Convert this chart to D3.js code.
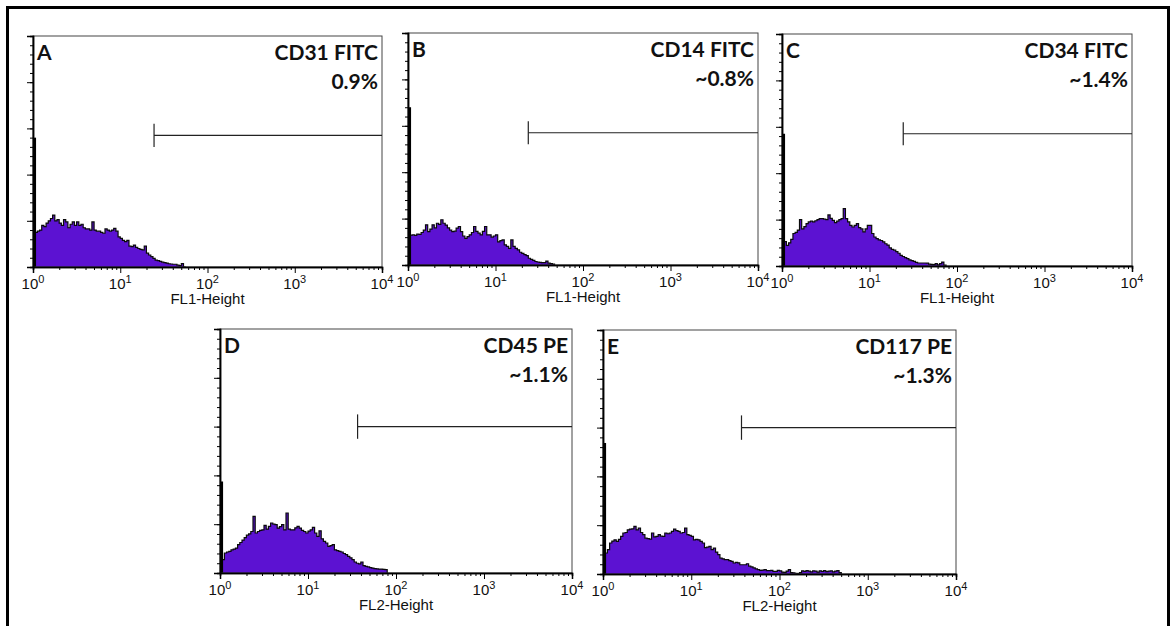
<!DOCTYPE html>
<html>
<head>
<meta charset="utf-8">
<script src="https://cdn.jsdelivr.net/npm/d3@7"></script>
<style>
  body { margin: 0; background: #fff; }
  svg { display: block; font-family: "Liberation Sans", Arial, sans-serif; }
</style>
</head>
<body>
<svg id="fig" width="1176" height="626"></svg>
<script>
// panel annotations
const panelIds   = ['A', 'B', 'C', 'D', 'E']
const markers    = ['CD31 FITC', 'CD14 FITC', 'CD34 FITC', 'CD45 PE', 'CD117 PE']
const percents   = ['0.9%', '~0.8%', '~1.4%', '~1.1%', '~1.3%']
const channels   = ['FL1-Height', 'FL1-Height', 'FL1-Height', 'FL2-Height', 'FL2-Height']
const gateStart  = [24.4, 23.7, 24.3, 36.6, 37.1]   // marker gate begins (fluorescence)
const gateLevel  = [57, 57, 57, 60, 60]             // height of the gate bar (count scale 0-100)
const firstChannel = [56, 68, 57, 37.5, 53.7]       // pile-up in the first channel
const decadeTicks = [1, 10, 100, 1000, 10000]
const decadeExp   = ['0', '1', '2', '3', '4']

// histogram counts, one value per 1/40 decade starting at 10^0
const binStep = 0.025
const countsA = [14.6,15,15.5,16,18,17.5,19,20,21,22.5,
  20,20.5,19,18,20.5,19.5,17,18.5,19.5,18,
  19.5,18,18.5,17,16.5,16.5,16,19.5,16,15.5,
  15.5,15,14.6,16.5,16,15.5,16,16.7,15.5,13,
  12.4,11.5,11,11.5,9,8.8,9.5,8.5,8,7.6,
  7.4,9,6,5.2,4.5,3.7,3,2.8,2.4,2.1,
  1.9,1.7,1.4,1.3,1.2,1.2,0.8,0.6,1.5,0]
const countsB = [12.7,12.9,13,12.8,13.3,13.2,14,15,17.3,14.4,
  15.5,17.3,16,18,17.5,19.5,18,17.2,16,15,
  14.4,14.6,15.9,16.6,14.4,12.5,11.5,12.2,13,14,
  16.6,14.5,13.7,13,14.5,16.6,13,13,12,12.5,
  13,10,10.5,10.8,8.7,8,7.2,10.8,8,7.2,
  6.5,5.5,5,4.5,4,2.9,2.4,2,1.5,1.3,
  1.1,1,1,1.7,0.8,0.6,0.4]
const countsC = [11.8,10.5,8.9,10,11.5,14,14.5,15.5,20,16,
  17,18.3,19,19.3,19,19.5,20,20.4,20.4,20.2,
  20,22,20.5,19.7,18.7,19.3,20,20.4,24.7,20.4,
  19,17.5,16.8,17.5,18.3,16.5,16,14.7,16,17.5,
  17.5,14,12.5,11.8,11.3,11,10.4,9.6,9,7.8,
  7.2,6.8,6.2,5.5,4.6,4.1,3.6,3.2,2.6,2.3,
  2,1.6,1.3,1.3,1.3,1.3,1.2,0.8,0.7,0.6,
  1,0.5,1,1.7,0.4]
const countsD = [4.8,5.5,8.2,8.6,8.9,9.5,9.8,10.2,11.6,12.5,
  13.5,14.5,15.5,16,17,23.2,16.4,17,17.5,17.7,
  19.5,18,19.1,20.5,20,19.8,18.4,19,19.8,17.7,
  24.6,18,17.7,17.7,18.5,19.1,18.4,17.5,17,16.4,
  17.2,17.7,18.7,16.4,15,17.3,14,13,12.3,10.9,
  11.2,11.6,9.5,9.2,8.9,8.6,8,7.5,6.8,6.2,
  5.5,4.5,4,3.7,4.5,3,2.7,2.5,2.2,2,
  1.8,1.7,1.6,1.6,1.5,1.4]
const countsE = [9.3,8.6,10,12.7,13.5,14,13.4,14.2,15.4,16.8,
  17,18.1,18.4,18.5,19.5,18.1,18.8,17,16.1,14.7,
  14.5,14.3,16.8,15.2,15.4,16.1,15.5,15.4,16.8,16.5,
  16.8,17.5,18.4,17.8,17.5,16.8,17,18.8,16.1,15.8,
  15.4,14,14.2,14,13.4,12.7,10.8,11,11.3,10,
  10.6,9,7.9,6.5,6.2,5.9,5.9,5.5,5.2,4.5,
  4.8,4.6,3.8,3.8,3.8,4.2,3.2,2.9,2.5,2.1,
  1.8,1.5,1.6,1.8,1.4,1.4,1.5,1.1,1.1,1.5,
  1.3,0.8,0.7,1.2,1.8,0.6,0.5,0.3,0.2,0.6,
  1.3,1.1,1.4,1.2,0.9,1.3,1.2,0.8,1.3,1.1,
  1.4,1,1.2,1.3,0.9,1.2,1.4,0.6]
const counts = [countsA, countsB, countsC, countsD, countsE]

// plot boxes on the page
const layout = [
  { x: 33,  y: 36,  w: 349, h: 231 },
  { x: 408, y: 33,  w: 350, h: 232 },
  { x: 782, y: 34,  w: 350, h: 232 },
  { x: 220, y: 329, w: 352, h: 244 },
  { x: 603, y: 330, w: 353, h: 244 }
]
const purple = '#5c12d2'

const svg = d3.select('#fig')

// outer frame (open at the bottom of the page)
svg.append('rect')
  .attr('x', 7.5).attr('y', 7.5)
  .attr('width', 1161).attr('height', 660)
  .attr('fill', 'none').attr('stroke', '#000').attr('stroke-width', 3)

const minorTicks = []
decadeTicks.slice(0, 4).forEach(d => { for (let m = 2; m <= 9; m++) minorTicks.push(d * m) })

counts.forEach((vals, k) => {
  const L = layout[k]
  const g = svg.append('g').attr('transform', `translate(${L.x},${L.y})`)

  const x = d3.scaleLog().domain([1, 1e4]).range([0, L.w])
  const y = d3.scaleLinear().domain([0, 100]).range([L.h, 0])

  // histogram
  const pts = vals.map((v, i) => ({ lo: Math.pow(10, i * binStep), v }))
  pts.push({ lo: Math.pow(10, vals.length * binStep), v: 0 })

  const area = d3.area()
    .x(d => x(d.lo)).y0(L.h).y1(d => y(d.v))
    .curve(d3.curveStepAfter)
  g.append('path').datum(pts).attr('d', area).attr('fill', purple)

  const outline = d3.line()
    .x(d => x(d.lo)).y(d => y(d.v))
    .curve(d3.curveStepAfter)
  g.append('path').datum(pts).attr('d', outline)
    .attr('fill', 'none').attr('stroke', '#0a0a0a').attr('stroke-width', 1.2)

  // first-channel spike
  g.append('rect')
    .attr('x', x(1))
    .attr('y', y(firstChannel[k]))
    .attr('width', (x(Math.pow(10, binStep)) - x(1)) * 1.4)
    .attr('height', L.h - y(firstChannel[k]))
    .attr('fill', '#000')

  // frame
  g.append('rect').attr('width', L.w).attr('height', L.h)
    .attr('fill', 'none').attr('stroke', '#444').attr('stroke-width', 1)

  // x axis
  const xMinor = g.append('g').attr('transform', `translate(0,${L.h})`)
    .call(d3.axisBottom(x).tickValues(minorTicks).tickSize(3).tickFormat(''))
  const xMajor = g.append('g').attr('transform', `translate(0,${L.h})`)
    .call(d3.axisBottom(x).tickValues(decadeTicks).tickSize(6).tickFormat(''))
  // y axis
  const yMinor = g.append('g')
    .call(d3.axisLeft(y).tickValues(d3.range(0, 101, 4)).tickSize(3).tickFormat(''))
  const yMajor = g.append('g')
    .call(d3.axisLeft(y).tickValues(d3.range(0, 101, 20)).tickSize(6).tickFormat(''))

  ;[xMinor, xMajor, yMinor, yMajor].forEach(a => {
    a.selectAll('.tick line').attr('stroke', '#000')
    a.select('.domain').attr('stroke', '#000').attr('stroke-width', 1.5)
  })

  // decade labels 10^n
  decadeTicks.forEach((v, i) => {
    const t = g.append('text')
      .attr('x', x(v)).attr('y', L.h + 22)
      .attr('text-anchor', 'middle')
      .attr('font-size', 15).attr('fill', '#111')
    t.append('tspan').text('10')
    t.append('tspan').attr('dy', -6).attr('font-size', 11).text(decadeExp[i])
  })

  g.append('text')
    .attr('x', L.w / 2).attr('y', L.h + 37)
    .attr('text-anchor', 'middle')
    .attr('font-size', 15).attr('fill', '#111')
    .text(channels[k])

  // marker gate
  g.append('line')
    .attr('x1', x(gateStart[k])).attr('x2', L.w)
    .attr('y1', y(gateLevel[k])).attr('y2', y(gateLevel[k]))
    .attr('stroke', '#222').attr('stroke-width', 1.2)
  g.append('line')
    .attr('x1', x(gateStart[k])).attr('x2', x(gateStart[k]))
    .attr('y1', y(gateLevel[k] + 5)).attr('y2', y(gateLevel[k] - 5))
    .attr('stroke', '#222').attr('stroke-width', 1.2)

  // annotations
  const lab = g.append('g')
    .attr('font-family', 'Lato, "Open Sans", sans-serif')
    .attr('font-weight', 700).attr('fill', '#111')
  lab.append('text').attr('x', 4).attr('y', 24)
    .attr('font-size', 21).text(panelIds[k])
  lab.append('text').attr('x', L.w - 4).attr('y', 24)
    .attr('text-anchor', 'end').attr('font-size', 21).text(markers[k])
  lab.append('text').attr('x', L.w - 4).attr('y', 53)
    .attr('text-anchor', 'end').attr('font-size', 21).text(percents[k])
})
</script>
</body>
</html>
